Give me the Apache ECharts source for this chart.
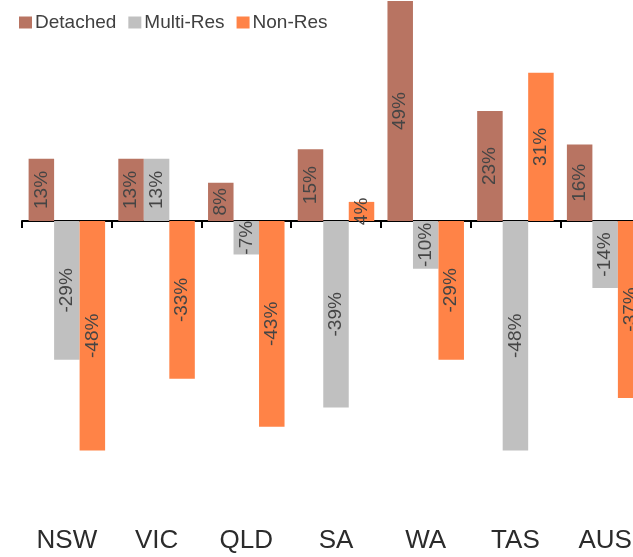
<!DOCTYPE html>
<html>
<head>
<meta charset="utf-8">
<script src="https://cdn.jsdelivr.net/npm/echarts@6/dist/echarts.min.js"></script>
<style>
  html, body { margin: 0; padding: 0; background: #fff; overflow: hidden; }
  /* the original picture is cut off at the right edge, so the chart is drawn wider than the window */
  #main { width: 650px; height: 557px; }
</style>
</head>
<body>
<div id="main"></div>
<script>
// housing approvals change by state, %
var categories = ['NSW', 'VIC', 'QLD', 'SA', 'WA', 'TAS', 'AUS'];
var detached = [13, 13, 8, 15, 49, 23, 16];
var multiRes = [-29, 13, -7, -39, -10, -48, -14];
var nonRes = [-48, -33, -43, 4, -29, 31, -37];

var chart = echarts.init(document.getElementById('main'));

function barLabel() {
  return {
    show: true,
    position: 'inside',
    rotate: 90,
    formatter: function (p) { return p.value + '%'; },
    color: '#454545',
    textBorderWidth: 0,
    fontFamily: '"Liberation Sans", Arial',
    fontSize: 19
  };
}

chart.setOption({
  animation: false,
  legend: {
    left: 14,
    top: 8,
    itemWidth: 13,
    itemHeight: 12,
    itemGap: 12,
    icon: 'rect',
    textStyle: { color: '#404040', fontSize: 19, fontFamily: '"Liberation Sans", Arial', padding: [0, 0, 0, -2] },
    data: ['Detached', 'Multi-Res', 'Non-Res']
  },
  grid: [
    { left: 22, top: 1, right: 0, height: 507 },
    { left: 22, top: 1, right: 0, height: 507 }
  ],
  xAxis: [
    {
      type: 'category',
      gridIndex: 0,
      data: categories,
      axisLine: { onZero: true, lineStyle: { color: '#000', width: 2 } },
      axisTick: { show: true, length: 7, lineStyle: { color: '#000', width: 2 } },
      axisLabel: { show: false }
    },
    {
      type: 'category',
      gridIndex: 1,
      data: categories,
      axisLine: { show: false },
      axisTick: { show: false },
      axisLabel: {
        margin: 20,
        color: '#2b2b2b',
        fontSize: 26,
        fontFamily: '"Liberation Sans", Arial'
      }
    }
  ],
  yAxis: [
    { type: 'value', gridIndex: 0, min: -60, max: 46, show: false, splitLine: { show: false } },
    { type: 'value', gridIndex: 1, min: -60, max: 46, show: false, splitLine: { show: false } }
  ],
  series: [
    {
      name: 'Detached', type: 'bar', data: detached,
      barWidth: 25.5, barGap: '0%',
      itemStyle: { color: '#b87462' },
      label: barLabel()
    },
    {
      name: 'Multi-Res', type: 'bar', data: multiRes,
      barWidth: 25.5, barGap: '0%',
      itemStyle: { color: '#c0c0c0' },
      label: barLabel()
    },
    {
      name: 'Non-Res', type: 'bar', data: nonRes,
      barWidth: 25.5, barGap: '0%',
      itemStyle: { color: '#ff8347' },
      label: barLabel()
    }
  ]
});
</script>
</body>
</html>
